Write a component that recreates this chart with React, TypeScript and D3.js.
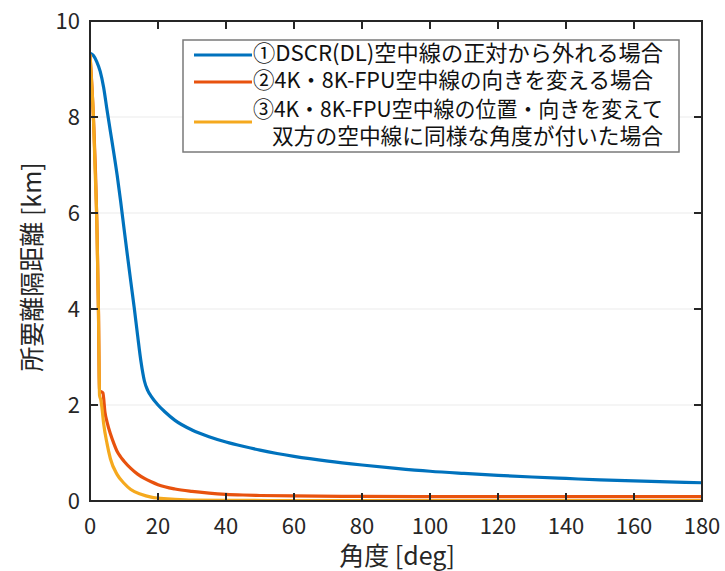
import React from "react";
import * as d3 from "d3";

const xTicks = [0, 20, 40, 60, 80, 100, 120, 140, 160, 180];
const yTicks = [0, 2, 4, 6, 8, 10];

const seriesNames = [
  ["①DSCR(DL)空中線の正対から外れる場合"],
  ["②4K・8K-FPU空中線の向きを変える場合"],
  ["③4K・8K-FPU空中線の位置・向きを変えて", "双方の空中線に同様な角度が付いた場合"],
];
const seriesColors = ["#0072BD", "#E8520E", "#F5A91E"];

const blueDeg = [0, 1, 2, 3, 4, 5, 6, 7, 8, 9, 10, 11, 12, 13, 14, 15, 16, 17, 18, 20, 22, 25, 30, 35, 40, 45, 50, 55, 60, 70, 80, 90, 100, 110, 120, 130, 140, 150, 160, 170, 180];
const blueKm = [9.33, 9.28, 9.15, 8.95, 8.62, 8.15, 7.7, 7.25, 6.78, 6.25, 5.68, 5.12, 4.57, 4.03, 3.45, 2.9, 2.5, 2.3, 2.18, 2.0, 1.86, 1.68, 1.48, 1.34, 1.23, 1.14, 1.06, 0.99, 0.93, 0.83, 0.75, 0.68, 0.62, 0.575, 0.535, 0.5, 0.47, 0.44, 0.42, 0.4, 0.38];

const orangeDeg = [0, 1, 2, 2.5, 2.7, 2.8, 3.8, 4.4, 5, 6, 7, 8, 9, 10, 12, 14, 16, 18, 20, 25, 30, 35, 40, 45, 50, 60, 80, 120, 180];
const orangeKm = [9.3, 8.0, 5.85, 3.9, 2.6, 2.3, 2.25, 1.85, 1.65, 1.4, 1.2, 1.03, 0.92, 0.83, 0.68, 0.56, 0.47, 0.4, 0.34, 0.25, 0.2, 0.165, 0.14, 0.125, 0.115, 0.105, 0.095, 0.09, 0.09];

const yellowDeg = [0, 0.5, 1, 1.5, 2, 2.5, 2.7, 2.8, 3.2, 3.5, 4, 5, 6, 8, 10, 12, 15, 18, 20, 25, 30, 40, 60, 180];
const yellowKm = [9.3, 8.7, 8.0, 6.9, 5.85, 3.9, 2.6, 2.2, 2.1, 1.95, 1.62, 1.2, 0.88, 0.55, 0.37, 0.24, 0.14, 0.08, 0.06, 0.035, 0.02, 0.015, 0.01, 0.01];

const seriesDeg = [blueDeg, orangeDeg, yellowDeg];
const seriesKm = [blueKm, orangeKm, yellowKm];

const W = 725;
const H = 571;
const m = { left: 90, right: 702, top: 21, bottom: 501 };
const FONT = "'Noto Sans CJK JP', 'Noto Sans', sans-serif";

export default function App() {
  const x = d3.scaleLinear().domain([0, 180]).range([m.left, m.right]);
  const y = d3.scaleLinear().domain([0, 10]).range([m.bottom, m.top]);
  const line = d3
    .line<[number, number]>()
    .x((d) => x(d[0]))
    .y((d) => y(d[1]))
    .curve(d3.curveMonotoneX);

  const axisColor = "#262626";
  const tickLen = 8;

  const legX = 183;
  const legY = 40;
  const legW = 496;
  const legH = 112;
  const lineRows = [55, 82, 122];
  const textRows = [[53], [80], [109, 136]];
  const textLens = [[410], [400], [410, 391]];

  return (
    <svg
      width={W}
      height={H}
      style={{ position: "absolute", left: 0, top: 0, background: "#fff" }}
      fontFamily={FONT}
    >
      <defs>
        <clipPath id="plotClip">
          <rect x={m.left} y={m.top} width={m.right - m.left} height={m.bottom - m.top} />
        </clipPath>
      </defs>
      {yTicks.slice(1, -1).map((t) => (
        <line key={"g" + t} x1={m.left} x2={m.right} y1={y(t)} y2={y(t)} stroke="#ebebeb" strokeWidth={1} />
      ))}
      <g clipPath="url(#plotClip)">
        {seriesDeg.map((degs, i) => (
          <path
            key={"s" + i}
            d={line(degs.map((d, j) => [d, seriesKm[i][j]] as [number, number])) || ""}
            fill="none"
            stroke={seriesColors[i]}
            strokeWidth={3.2}
            strokeLinejoin="round"
          />
        ))}
      </g>
      <rect
        x={m.left}
        y={m.top}
        width={m.right - m.left}
        height={m.bottom - m.top}
        fill="none"
        stroke={axisColor}
        strokeWidth={2}
      />
      {xTicks.map((t) => (
        <g key={"xt" + t}>
          <line x1={x(t)} x2={x(t)} y1={m.bottom} y2={m.bottom - tickLen} stroke={axisColor} strokeWidth={2} />
          <line x1={x(t)} x2={x(t)} y1={m.top} y2={m.top + tickLen} stroke={axisColor} strokeWidth={2} />
          <text x={x(t)} y={534} textAnchor="middle" fontSize={22} fill={axisColor}>
            {t}
          </text>
        </g>
      ))}
      {yTicks.map((t) => (
        <g key={"yt" + t}>
          <line x1={m.left} x2={m.left + tickLen} y1={y(t)} y2={y(t)} stroke={axisColor} strokeWidth={2} />
          <line x1={m.right} x2={m.right - tickLen} y1={y(t)} y2={y(t)} stroke={axisColor} strokeWidth={2} />
          <text x={80} y={y(t)} dy="0.36em" textAnchor="end" fontSize={22} fill={axisColor}>
            {t}
          </text>
        </g>
      ))}
      <text x={397} y={565} textAnchor="middle" fontSize={25} fill={axisColor}>
        角度 [deg]
      </text>
      <text
        transform={`translate(41, 267) rotate(-90)`}
        textAnchor="middle"
        fontSize={25}
        fill={axisColor}
      >
        所要離隔距離 [km]
      </text>
      <rect x={legX} y={legY} width={legW} height={legH} fill="#fff" stroke="#7a7a7a" strokeWidth={1.5} />
      {seriesNames.map((lines, i) => (
        <g key={"l" + i}>
          <line x1={194} x2={252} y1={lineRows[i]} y2={lineRows[i]} stroke={seriesColors[i]} strokeWidth={3.2} />
          {lines.map((s, k) => (
            <text
              key={k}
              x={k === 0 ? 253 : 272}
              y={textRows[i][k]}
              dy="0.36em"
              fontSize={22}
              fill="#111"
              textLength={textLens[i][k]}
              lengthAdjust="spacingAndGlyphs"
            >
              {s}
            </text>
          ))}
        </g>
      ))}
    </svg>
  );
}
